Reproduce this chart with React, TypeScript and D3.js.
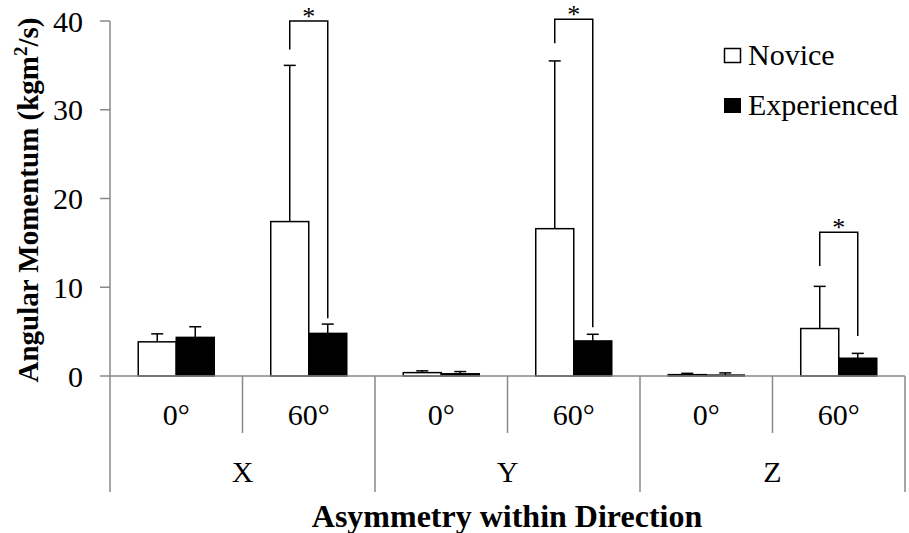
import React from "react";
import * as d3 from "d3";

const groups = ["X", "Y", "Z"];
const angles = ["0°", "60°"];
const series = ["Novice", "Experienced"];
// values per group, per angle: [novice, experienced]
const noviceMean = [3.85, 17.4, 0.38, 16.6, 0.15, 5.35];
const noviceErr = [4.75, 35.0, 0.58, 35.5, 0.3, 10.1];
const expMean = [4.35, 4.8, 0.25, 3.95, 0.1, 2.0];
const expErr = [5.55, 5.85, 0.5, 4.7, 0.35, 2.55];
const yTicks = [0, 10, 20, 30, 40];
// significance brackets: group, top value, left leg end, right leg end
const sigGroups = ["X", "Y", "Z"];
const sigTop = [40.0, 40.2, 16.2];
const sigLeftEnd = [36.8, 37.5, 12.4];
const sigRightEnd = [6.5, 5.5, 4.5];

const W = 909;
const H = 533;
const FONT = "'Liberation Serif', 'Times New Roman', serif";
const AXIS = "#898989";

export default function App() {
  const y = d3.scaleLinear().domain([0, 40]).range([376, 21]);
  const gx = d3.scaleBand().domain(groups).range([110, 905]);
  const sx = d3.scaleBand().domain(angles).range([0, gx.bandwidth()]);
  const bx = d3.scaleBand().domain(series).range([0, sx.bandwidth()]).paddingInner(0).paddingOuter(0.743);

  const bars: any[] = [];
  groups.forEach((g, gi) => {
    angles.forEach((a, ai) => {
      const idx = gi * 2 + ai;
      const base = (gx(g) as number) + (sx(a) as number);
      bars.push({ s: "Novice", x: base + (bx("Novice") as number), v: noviceMean[idx], e: noviceErr[idx] });
      bars.push({ s: "Experienced", x: base + (bx("Experienced") as number), v: expMean[idx], e: expErr[idx] });
    });
  });
  const bw = bx.bandwidth();
  const cap = 6;

  return (
    <svg width={W} height={H} style={{ position: "absolute", left: 0, top: 0, background: "#fff", fontFamily: FONT }}>
      {/* y axis */}
      <line x1={110} x2={110} y1={y(40)} y2={y(0)} stroke={AXIS} strokeWidth={1.5} />
      {yTicks.map((t) => (
        <g key={t}>
          <line x1={100} x2={110} y1={y(t)} y2={y(t)} stroke={AXIS} strokeWidth={1.5} />
          <text x={83} y={y(t)} dy="0.35em" textAnchor="end" fontSize={30} fill="#000">
            {t}
          </text>
        </g>
      ))}
      {/* bars */}
      {bars.map((b, i) => (
        <g key={i}>
          <line x1={b.x + bw / 2} x2={b.x + bw / 2} y1={y(b.v)} y2={y(b.e)} stroke="#000" strokeWidth={1.5} />
          <line x1={b.x + bw / 2 - cap} x2={b.x + bw / 2 + cap} y1={y(b.e)} y2={y(b.e)} stroke="#000" strokeWidth={1.5} />
          <rect
            x={b.x}
            y={y(b.v)}
            width={bw}
            height={y(0) - y(b.v)}
            fill={b.s === "Novice" ? "#fff" : "#000"}
            stroke="#000"
            strokeWidth={1.5}
          />
        </g>
      ))}
      {/* category axis */}
      <line x1={110} x2={905} y1={y(0)} y2={y(0)} stroke={AXIS} strokeWidth={1.5} />
      {groups.map((g) => (
        <g key={g}>
          {angles.map((a) => {
            const x0 = (gx(g) as number) + (sx(a) as number);
            return (
              <text key={a} x={x0 + sx.bandwidth() / 2} y={425} textAnchor="middle" fontSize={30} fill="#000">
                {a}
              </text>
            );
          })}
          <line
            x1={(gx(g) as number) + (sx("60°") as number)}
            x2={(gx(g) as number) + (sx("60°") as number)}
            y1={y(0)}
            y2={433}
            stroke={AXIS}
            strokeWidth={1.5}
          />
          <text x={(gx(g) as number) + gx.bandwidth() / 2} y={482} textAnchor="middle" fontSize={30} fill="#000">
            {g}
          </text>
        </g>
      ))}
      {[...groups.map((g) => gx(g) as number), 905].map((x, i) => (
        <line key={i} x1={x} x2={x} y1={y(0)} y2={492} stroke={AXIS} strokeWidth={1.5} />
      ))}
      {/* significance brackets */}
      {sigGroups.map((g, i) => {
        const base = (gx(g) as number) + (sx("60°") as number);
        const lx = base + (bx("Novice") as number) + bw / 2;
        const rx = base + (bx("Experienced") as number) + bw / 2;
        return (
          <g key={g}>
            <path
              d={`M${lx},${y(sigLeftEnd[i])}V${y(sigTop[i])}H${rx}V${y(sigRightEnd[i])}`}
              fill="none"
              stroke="#000"
              strokeWidth={1.5}
            />
            <text x={(lx + rx) / 2} y={y(sigTop[i]) + 4} textAnchor="middle" fontSize={26} fill="#000">
              *
            </text>
          </g>
        );
      })}
      {/* legend */}
      <rect x={724.5} y={48.5} width={16} height={14} fill="#fff" stroke="#000" strokeWidth={1.5} />
      <text x={748} y={65} fontSize={30} fill="#000">Novice</text>
      <rect x={724} y={98} width={17} height={15} fill="#000" />
      <text x={748} y={115} fontSize={30} fill="#000">Experienced</text>
      {/* axis titles */}
      <text
        transform={`translate(38,200) rotate(-90)`}
        textAnchor="middle"
        fontSize={29}
        fontWeight="bold"
        fill="#000"
      >
        Angular Momentum (kgm<tspan fontSize={19} dy={-11}>2</tspan>
        <tspan dy={11}>/s)</tspan>
      </text>
      <text x={507} y={527} textAnchor="middle" fontSize={32} fontWeight="bold" fill="#000">
        Asymmetry within Direction
      </text>
    </svg>
  );
}
